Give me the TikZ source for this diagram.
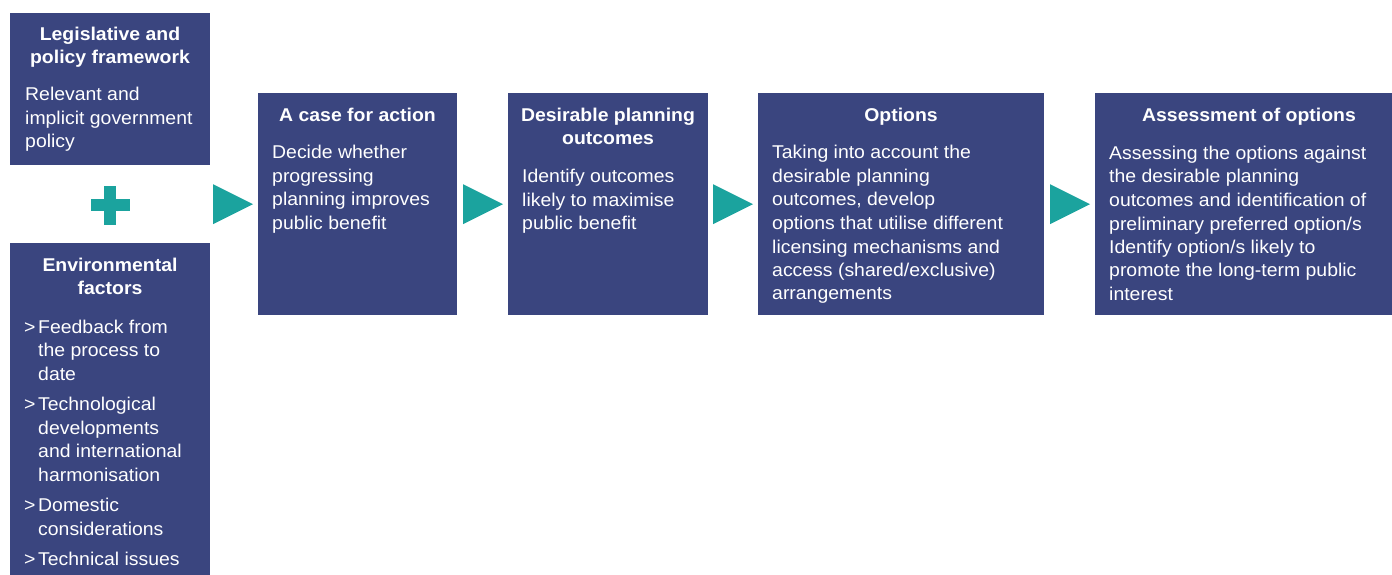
\documentclass[tikz,border=0pt]{standalone}
\usepackage{fontspec}
\setmainfont{Liberation Sans}[FakeStretch=1.05]
\definecolor{panelblue}{RGB}{58,69,127}
\definecolor{stepteal}{RGB}{27,163,158}
\begin{document}
\begin{tikzpicture}[x=1pt,y=-1pt,
  panel/.style={fill=panelblue, inner sep=0pt, anchor=north west},
  head/.style={text=white, inner sep=0pt, anchor=base,
    font=\fontsize{18.5}{23}\selectfont\bfseries},
  body/.style={text=white, inner sep=0pt, anchor=base west,
    font=\fontsize{18.5}{23.5}\selectfont},
  pointer/.style={fill=stepteal}]
\useasboundingbox (0,0) rectangle (1392,575);

% left column: inputs
\node[panel, minimum width=200pt, minimum height=152pt] (legis) at (10,13) {};
\node[head] (legisT) at (110,41) {\parbox[t]{196pt}{\centering Legislative and\\policy framework}};
\node[body] (legisB) at (25,100.7) {\parbox[t]{190pt}{\raggedright Relevant and\\implicit government\\policy}};

\coordinate (plus) at (110,205);
\fill[pointer] (plus) ++(-19.5,-6) rectangle ++(39,12);
\fill[pointer] (plus) ++(-6,-19.5) rectangle ++(12,39);

\node[panel, minimum width=200pt, minimum height=332pt] (env) at (10,243) {};
\node[head] (envT) at (110,271.7) {\parbox[t]{196pt}{\centering Environmental\\factors}};
\node[body] (envB) at (24,333.3) {\parbox[t]{190pt}{\raggedright
  \makebox[14pt][l]{>}Feedback from\\
  \hspace*{14pt}the process to\\
  \hspace*{14pt}date\\[7pt]
  \makebox[14pt][l]{>}Technological\\
  \hspace*{14pt}developments\\
  \hspace*{14pt}and international\\
  \hspace*{14pt}harmonisation\\[7pt]
  \makebox[14pt][l]{>}Domestic\\
  \hspace*{14pt}considerations\\[7pt]
  \makebox[14pt][l]{>}Technical issues}};

% process steps
\node[panel, minimum width=199pt, minimum height=222pt] (caseA) at (258,93) {};
\node[head] (caseT) at (357.5,121.7) {\parbox[t]{196pt}{\centering A case for action}};
\node[body] (caseB) at (272,159) {\parbox[t]{190pt}{\raggedright Decide whether\\progressing\\planning improves\\public benefit}};

\node[panel, minimum width=200pt, minimum height=222pt] (outc) at (508,93) {};
\node[head] (outcT) at (608,121.7) {\parbox[t]{196pt}{\centering Desirable planning\\outcomes}};
\node[body] (outcB) at (522,182.5) {\parbox[t]{190pt}{\raggedright Identify outcomes\\likely to maximise\\public benefit}};

\node[panel, minimum width=286pt, minimum height=222pt] (opts) at (758,93) {};
\node[head] (optsT) at (901,121.7) {\parbox[t]{280pt}{\centering Options}};
\node[body] (optsB) at (772,159) {\parbox[t]{270pt}{\raggedright Taking into account the\\desirable planning\\outcomes, develop\\options that utilise different\\licensing mechanisms and\\access (shared/exclusive)\\arrangements}};

\node[panel, minimum width=297pt, minimum height=222pt] (assess) at (1095,93) {};
\node[head] (assessT) at (1249,121.7) {\parbox[t]{290pt}{\centering Assessment of options}};
\node[body] (assessB) at (1109,159.5) {\parbox[t]{280pt}{\raggedright Assessing the options against\\the desirable planning\\outcomes and identification of\\preliminary preferred option/s\\Identify option/s likely to\\promote the long-term public\\interest}};

% step arrows
\foreach \target in {caseA,outc,opts,assess}
  \fill[pointer] ([xshift=-5pt]\target.west) -- ++(-40,-20) -- ++(0,40) -- cycle;
\end{tikzpicture}
\end{document}
